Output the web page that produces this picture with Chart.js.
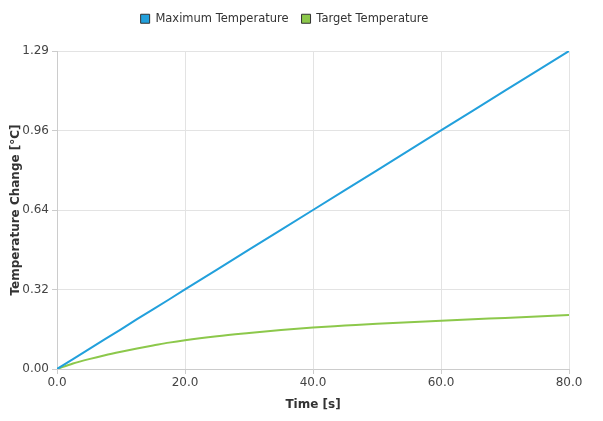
<!DOCTYPE html>
<html>
<head>
<meta charset="utf-8">
<script src="https://cdn.jsdelivr.net/npm/chart.js@4/dist/chart.umd.min.js"></script>
<style>
  html, body { margin: 0; padding: 0; background: #fff; }
  #wrap { width: 603px; height: 421px; }
</style>
</head>
<body>
<div id="wrap"><canvas id="chart"></canvas></div>
<script>
// values
const timeS = [0, 2.5, 5, 7.5, 10, 12.5, 15, 17.5, 20, 25, 30, 35, 40, 45, 50, 55, 60, 65, 70, 75, 80];
const maxTemp = [0, 0.040, 0.081, 0.121, 0.161, 0.202, 0.242, 0.282, 0.323, 0.403, 0.484, 0.564, 0.645, 0.726, 0.806, 0.887, 0.968, 1.048, 1.129, 1.209, 1.29];
const targetTemp = [0, 0.022, 0.040, 0.056, 0.070, 0.083, 0.095, 0.107, 0.117, 0.133, 0.146, 0.158, 0.168, 0.176, 0.184, 0.190, 0.196, 0.202, 0.207, 0.213, 0.219];
const yTicks = [0, 0.3225, 0.645, 0.9675, 1.29];
const yLabels = ["0.00", "0.32", "0.64", "0.96", "1.29"];
const xTicks = [0, 20, 40, 60, 80];

const BLUE = '#22a0dc';
const GREEN = '#8cc84b';
const FONT = 'DejaVu Sans';

const toPts = (ys) => ys.map((y, i) => ({ x: timeS[i], y: y }));

const fixLayout = {
    id: 'fixLayout',
    beforeLayout(chart) {
        const l = chart.legend;
        if (l && !l._fixed) {
            const f = l.fit.bind(l);
            l.fit = function () { f(); this.height = 51; };
            l._fixed = true;
        }
    }
};

new Chart(document.getElementById('chart'), {
    type: 'line',
    data: {
        datasets: [
            { label: 'Maximum Temperature', data: toPts(maxTemp), borderColor: BLUE, backgroundColor: BLUE, borderWidth: 2, pointRadius: 0, tension: 0 },
            { label: 'Target Temperature', data: toPts(targetTemp), borderColor: GREEN, backgroundColor: GREEN, borderWidth: 2, pointRadius: 0, cubicInterpolationMode: 'monotone' }
        ]
    },
    options: {
        responsive: true,
        maintainAspectRatio: false,
        animation: false,
        layout: { padding: { left: 0, right: 34, top: 0, bottom: 0 } },
        plugins: {
            legend: {
                position: 'top',
                labels: {
                    font: { family: FONT, size: 11.5 },
                    color: '#333',
                    boxWidth: 9,
                    boxHeight: 9,
                    padding: 13,
                    generateLabels(chart) {
                        return chart.data.datasets.map((d, i) => ({
                            text: d.label, fillStyle: d.borderColor, strokeStyle: '#333', lineWidth: 1,
                            hidden: !chart.isDatasetVisible(i), datasetIndex: i, fontColor: '#333'
                        }));
                    }
                }
            },
            tooltip: { enabled: false }
        },
        scales: {
            x: {
                type: 'linear', min: 0, max: 80,
                afterBuildTicks(ax) { ax.ticks = xTicks.map(v => ({ value: v })); },
                afterFit(ax) { ax.height = 52; },
                ticks: { font: { family: FONT, size: 12 }, color: '#444', padding: 2, maxRotation: 0, callback: v => v.toFixed(1) },
                grid: { color: '#e3e3e3', tickLength: 5, tickColor: '#ccc' },
                border: { color: '#ccc' },
                title: { display: true, text: 'Time [s]', font: { family: FONT, size: 12, weight: 'bold' }, color: '#333', padding: { top: 4, bottom: 9 } }
            },
            y: {
                min: 0, max: 1.29,
                afterBuildTicks(ax) { ax.ticks = yTicks.map(v => ({ value: v })); },
                afterFit(ax) { ax.width = 57; },
                ticks: { font: { family: FONT, size: 12 }, color: '#444', padding: 3, callback: (v, i) => yLabels[i] },
                grid: { color: '#e3e3e3', tickLength: 5, tickColor: '#ccc' },
                border: { color: '#ccc' },
                title: { display: true, text: 'Temperature Change [°C]', font: { family: FONT, size: 12, weight: 'bold' }, color: '#333', padding: { top: 9, bottom: 2 } }
            }
        }
    },
    plugins: [fixLayout]
});
</script>
</body>
</html>
